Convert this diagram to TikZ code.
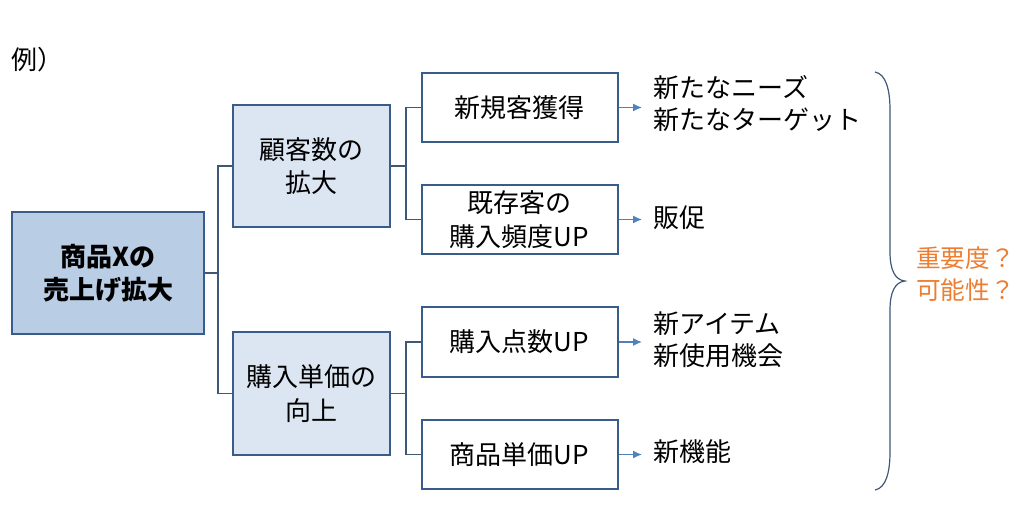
\documentclass[tikz,border=0pt]{standalone}
\usepackage{fontspec}
\setmainfont{Noto Sans CJK JP}
\usetikzlibrary{arrows.meta}
\definecolor{boxline}{HTML}{385D8A}
\definecolor{rootfill}{HTML}{B9CDE5}
\definecolor{midfill}{HTML}{DCE6F2}
\definecolor{treeline}{HTML}{3F5877}
\definecolor{arrowblue}{HTML}{4F81BD}
\definecolor{noteorange}{HTML}{ED7D31}
\tikzset{
  basebox/.style={draw=boxline, line width=1.5pt, align=center, inner sep=0pt,
    font=\fontsize{19.5pt}{25pt}\selectfont},
  rootbox/.style={basebox, fill=rootfill, minimum width=144pt, minimum height=92pt,
    font=\fontsize{19.5pt}{25pt}\selectfont\bfseries},
  midbox/.style={basebox, fill=midfill, minimum width=118pt, minimum height=92pt},
  leafbox/.style={basebox, fill=white, minimum width=147pt, minimum height=52pt},
  idea/.style={anchor=west, align=left, inner sep=0pt, font=\fontsize{19.5pt}{24pt}\selectfont},
  tree/.style={draw=treeline, line width=0.8pt},
  toidea/.style={draw=arrowblue, line width=1.4pt, -{Latex[length=7pt,width=6pt]}, shorten >=8pt},
}
\begin{document}
\begin{tikzpicture}[x=0.75pt, y=-0.75pt]
        \useasboundingbox (0,0) rectangle (1023,504);
        \node[anchor=west, inner sep=0pt, font=\fontsize{19.5pt}{24pt}\selectfont] (rei) at (11,60) {例）};
        % boxes
        \node[rootbox] (goal) at (108,273) {商品Xの\\売上げ拡大};
        \node[midbox] (cust) at (311.5,166) {顧客数の\\拡大};
        \node[midbox] (price) at (311.5,393.5) {購入単価の\\向上};
        \node[leafbox] (newcust) at (519.5,107.5) {新規客獲得};
        \node[leafbox] (repeat) at (519.5,219.5) {既存客の\\購入頻度UP};
        \node[leafbox] (qty) at (519.5,342) {購入点数UP};
        \node[leafbox] (unit) at (519.5,454.5) {商品単価UP};
        % ideas
        \node[idea] (needs) at (653,104) {新たなニーズ\\新たなターゲット};
        \node[idea] (promo) at (653,218) {販促};
        \node[idea] (items) at (653,340) {新アイテム\\新使用機会};
        \node[idea] (func) at (653,452) {新機能};
        \node[anchor=west, align=left, inner sep=0pt, text=noteorange,
          font=\fontsize{18.5pt}{24pt}\selectfont] (note) at (916,274) {重要度？\\可能性？};
        % tree lines
        \coordinate (j1) at (218,273);
        \coordinate (j2) at (406,166);
        \coordinate (j3) at (406,393.5);
        \draw[tree] (goal.east) -- (j1);
        \draw[tree] (j1) |- (cust.west);
        \draw[tree] (j1) |- (price.west);
        \draw[tree] (cust.east) -- (j2);
        \draw[tree] (j2) |- (newcust.west);
        \draw[tree] (j2) |- (repeat.west);
        \draw[tree] (price.east) -- (j3);
        \draw[tree] (j3) |- (qty.west);
        \draw[tree] (j3) |- (unit.west);
        % arrows
        \draw[toidea] (newcust.east) -- (newcust.east -| needs.west);
        \draw[toidea] (repeat.east) -- (repeat.east -| promo.west);
        \draw[toidea] (qty.east) -- (qty.east -| items.west);
        \draw[toidea] (unit.east) -- (unit.east -| func.west);
        % brace
        \draw[treeline, line width=0.9pt] (875,72) .. controls (886,74) and (890,90) .. (890,110)
          -- (890,252) .. controls (890,270) and (895,280) .. (905,281)
          .. controls (895,282) and (890,292) .. (890,310)
          -- (890,452) .. controls (890,472) and (886,488) .. (875,490);
    \end{tikzpicture}
\end{document}
